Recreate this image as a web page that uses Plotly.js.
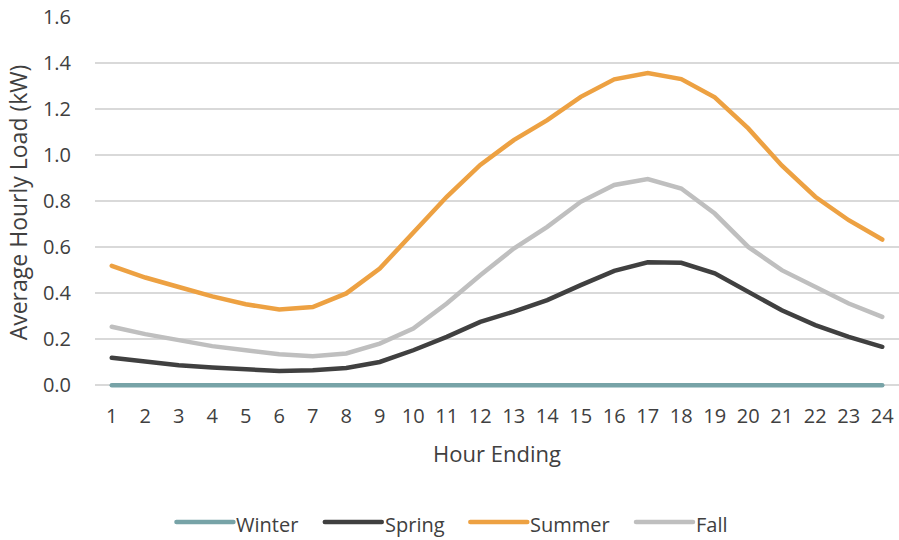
<!DOCTYPE html>
<html>
<head>
<meta charset="utf-8">
<script src="https://cdn.plot.ly/plotly-3.0.1.min.js"></script>
<style>
  html, body { margin: 0; padding: 0; background: #fff; }
  #chart { width: 899px; height: 540px; }
  /* rounded ends on the series lines and legend swatches */
  #chart .scatterlayer .js-line,
  #chart .shapelayer path { stroke-linecap: round; }
</style>
</head>
<body>
<div id="chart"></div>
<script>
// Average hourly load by season, hour ending 1..24
const hours = [1,2,3,4,5,6,7,8,9,10,11,12,13,14,15,16,17,18,19,20,21,22,23,24];
const hourLabels = hours.map(String);

const winter = [0,0,0,0,0,0,0,0,0,0,0,0,0,0,0,0,0,0,0,0,0,0,0,0];
const spring = [0.119,0.101,0.087,0.077,0.068,0.062,0.065,0.075,0.101,0.152,0.210,0.275,
                0.320,0.370,0.435,0.497,0.534,0.532,0.486,0.406,0.326,0.261,0.210,0.167];
const summer = [0.519,0.468,0.427,0.386,0.352,0.329,0.340,0.399,0.507,0.660,0.819,0.957,
                1.065,1.152,1.253,1.329,1.356,1.330,1.251,1.116,0.955,0.819,0.717,0.633];
const fall   = [0.254,0.222,0.196,0.170,0.152,0.135,0.126,0.138,0.181,0.246,0.355,0.478,
                0.594,0.688,0.797,0.870,0.896,0.855,0.746,0.601,0.500,0.427,0.355,0.297];

const seriesNames  = ['Winter', 'Spring', 'Summer', 'Fall'];
const seriesValues = [winter, spring, summer, fall];
const seriesColors = ['#77A3A7', '#404040', '#EDA142', '#BFBFBF'];

const yTicks = [0, 0.2, 0.4, 0.6, 0.8, 1.0, 1.2, 1.4, 1.6];
const yTickLabels = yTicks.map(v => v.toFixed(1));

const textColor = '#404040';
const fontFamily = '"Open Sans", "Noto Sans", sans-serif';
const lineWidth = 4.5;

// Plot frame (pixels)
const W = 899, H = 540;
const M = { l: 95, r: 0, t: 17, b: 152 };
const plotW = W - M.l - M.r;
const plotH = H - M.t - M.b;
// tiny negative floor so the zero-valued series is not clipped by the plot area
const yRange = [-0.012, 1.6];

const px2x = px => (px - M.l) / plotW;
const px2y = py => (H - M.b - py) / plotH;

const traces = seriesNames.map((name, i) => ({
  type: 'scatter',
  mode: 'lines',
  name: name,
  x: hourLabels,
  y: seriesValues[i],
  line: { color: seriesColors[i], width: lineWidth, shape: 'linear' },
  showlegend: false,
  hoverinfo: 'x+y+name'
}));

// Horizontal legend under the axis title: long swatch followed by its label
const legendFontSize = 20;
const swatchLen = 57, swatchGap = 3, itemGap = 26;
const legendCenterX = 452, legendLineY = 522, legendTextY = 524;

const ctx = document.createElement('canvas').getContext('2d');
ctx.font = legendFontSize + 'px "Open Sans"';
const labelWidths = seriesNames.map(n => ctx.measureText(n).width);
const totalW = labelWidths.reduce((s, w) => s + swatchLen + swatchGap + w, 0) + itemGap * (seriesNames.length - 1);

const shapes = [];
const annotations = [];
let cursor = legendCenterX - totalW / 2;
seriesNames.forEach((name, i) => {
  shapes.push({
    type: 'line', xref: 'paper', yref: 'paper',
    x0: px2x(cursor), x1: px2x(cursor + swatchLen),
    y0: px2y(legendLineY), y1: px2y(legendLineY),
    line: { color: seriesColors[i], width: lineWidth }
  });
  annotations.push({
    xref: 'paper', yref: 'paper',
    x: px2x(cursor + swatchLen + swatchGap - 2), y: px2y(legendTextY),
    xanchor: 'left', yanchor: 'middle',
    text: name, showarrow: false,
    font: { family: fontFamily, size: legendFontSize, color: textColor }
  });
  cursor += swatchLen + swatchGap + labelWidths[i] + itemGap;
});

const layout = {
  width: W,
  height: H,
  paper_bgcolor: '#ffffff',
  plot_bgcolor: '#ffffff',
  margin: M,
  showlegend: false,
  shapes: shapes,
  annotations: annotations,
  xaxis: {
    type: 'category',
    range: [-0.5, 23.5],
    showgrid: false,
    zeroline: false,
    showline: false,
    ticks: 'outside',
    ticklen: 10,
    tickcolor: 'rgba(0,0,0,0)',
    tickfont: { family: fontFamily, size: 20, color: textColor },
    title: { text: 'Hour Ending', font: { family: fontFamily, size: 22, color: textColor }, standoff: 18 },
    automargin: false
  },
  yaxis: {
    range: yRange,
    tickvals: yTicks,
    ticktext: yTickLabels,
    showgrid: true,
    gridcolor: '#D9D9D9',
    gridwidth: 1.5,
    zeroline: false,
    showline: false,
    ticks: 'outside',
    ticklen: 19,
    tickcolor: 'rgba(0,0,0,0)',
    tickfont: { family: fontFamily, size: 20, color: textColor },
    title: { text: 'Average Hourly Load (kW)', font: { family: fontFamily, size: 23, color: textColor }, standoff: 8 },
    automargin: false
  }
};

Plotly.newPlot('chart', traces, layout, { displayModeBar: false, staticPlot: true });
</script>
</body>
</html>
